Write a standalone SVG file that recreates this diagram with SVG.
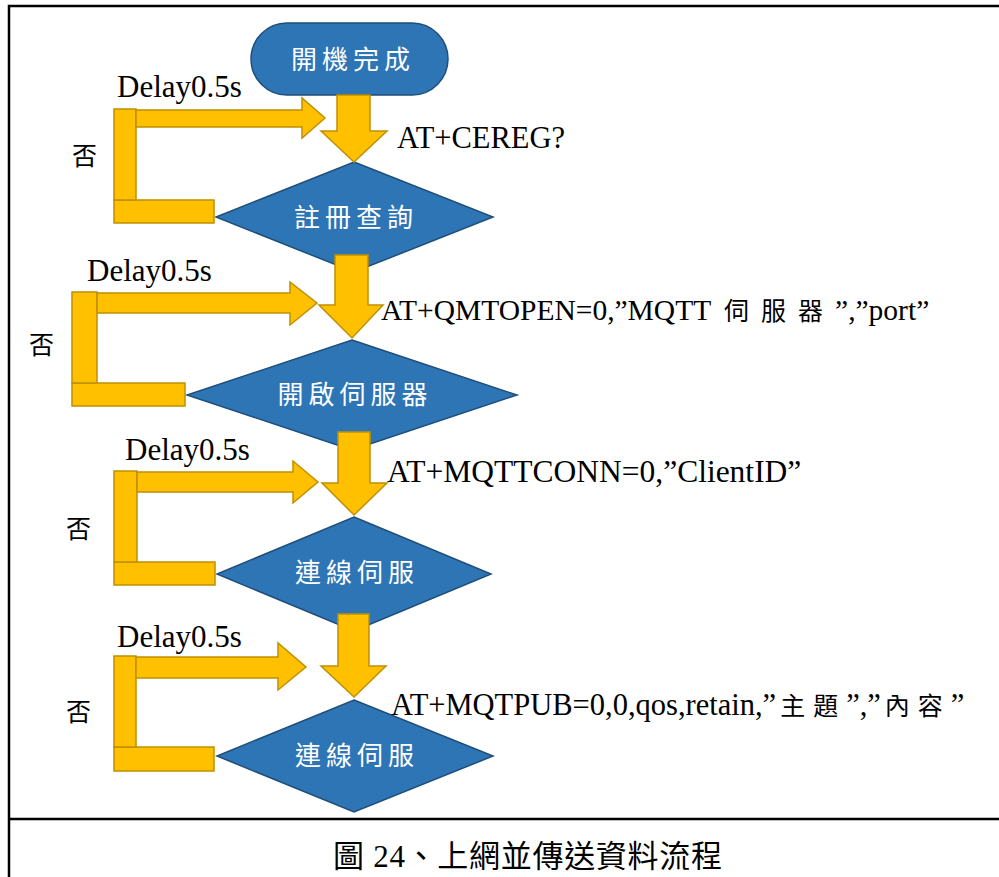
<svg xmlns="http://www.w3.org/2000/svg" width="999" height="877" viewBox="0 0 999 877">
  <style>
    .frame { fill: none; stroke: #000; stroke-width: 2.5; }
    .gold { fill: #FFC000; stroke: #BF9000; stroke-width: 1.5; stroke-linejoin: miter; }
    .blue { fill: #2E75B6; stroke: #1F4E79; stroke-width: 1.5; }
    .node-label { font-family: "Noto Sans CJK TC", sans-serif; font-size: 26px; fill: #fff; text-anchor: middle; letter-spacing: 5px; }
    .note { font-family: "Liberation Serif", "Noto Sans CJK TC", serif; fill: #000; }
    .cjk { font-family: "Noto Sans CJK TC", sans-serif; font-size: 25px; }
    .no { font-family: "Noto Sans CJK TC", sans-serif; font-size: 25px; fill: #000; }
    .caption { font-family: "Liberation Serif", "Noto Sans CJK TC", serif; font-size: 31px; fill: #000; }
  </style>

  <rect width="999" height="877" fill="#fff"/>

  <!-- outer frame and caption divider -->
  <path class="frame" d="M9 877 V6 H999"/>
  <line class="frame" x1="9" y1="819" x2="999" y2="819"/>
  <text class="caption" x="333" y="867" textLength="389">圖 24、上網並傳送資料流程</text>

  <!-- nodes -->
  <g id="start">
    <rect class="blue" x="251" y="23" width="197" height="72" rx="36" ry="36"/>
    <text class="node-label" x="353" y="69">開機完成</text>
  </g>
  <g id="check-reg">
    <polygon class="blue" points="354,162 493,217 354,272 216,217"/>
    <text class="node-label" x="356" y="227">註冊查詢</text>
  </g>
  <g id="open-server">
    <polygon class="blue" points="352,340 517,395 352,450 187,395"/>
    <text class="node-label" x="355" y="404">開啟伺服器</text>
  </g>
  <g id="connect-server">
    <polygon class="blue" points="354,517 491,574 354,631 217,574"/>
    <text class="node-label" x="357" y="582">連線伺服</text>
  </g>
  <g id="publish">
    <polygon class="blue" points="354,700 493,756 354,812 217,756"/>
    <text class="node-label" x="357" y="765">連線伺服</text>
  </g>

  <!-- connectors: block arrows and retry loops -->
  <g id="connectors">
    <!-- main flow arrows -->
    <polygon class="gold" points="337,95 370,95 370,131 387,131 354,162 321,131 337,131"/>
    <polygon class="gold" points="335,255 368,255 368,305 383,305 352,338 319,305 335,305"/>
    <polygon class="gold" points="338,432 370,432 370,483 387,483 354,515 322,483 338,483"/>
    <polygon class="gold" points="338,614 369,614 369,666 386,666 354,697 321,666 338,666"/>

    <!-- retry loop 1 -->
    <rect class="gold" x="114" y="200" width="100" height="23"/>
    <rect class="gold" x="114" y="109" width="22" height="91"/>
    <polygon class="gold" points="136,110 302,110 302,98 325,118 302,138 302,127 136,127"/>

    <!-- retry loop 2 -->
    <rect class="gold" x="72" y="383" width="113" height="23"/>
    <rect class="gold" x="72" y="292" width="25" height="91"/>
    <polygon class="gold" points="97,293 290,293 290,282 317,303 290,325 290,313 97,313"/>

    <!-- retry loop 3 -->
    <rect class="gold" x="114" y="562" width="101" height="23"/>
    <rect class="gold" x="114" y="471" width="23" height="91"/>
    <polygon class="gold" points="137,472 293,472 293,461 318,482 293,503 293,492 137,492"/>

    <!-- retry loop 4 -->
    <rect class="gold" x="114" y="747" width="100" height="24"/>
    <rect class="gold" x="114" y="656" width="22" height="91"/>
    <polygon class="gold" points="136,657 278,657 278,643 306,667 278,690 278,678 136,678"/>
  </g>

  <!-- loop labels -->
  <g id="labels">
    <text class="note" x="117" y="97" font-size="31">Delay0.5s</text>
    <text class="note" x="87" y="281" font-size="31">Delay0.5s</text>
    <text class="note" x="125" y="460" font-size="31">Delay0.5s</text>
    <text class="note" x="117" y="647" font-size="31">Delay0.5s</text>

    <text class="no" x="72" y="165">否</text>
    <text class="no" x="29" y="354">否</text>
    <text class="no" x="66" y="538">否</text>
    <text class="no" x="66" y="721">否</text>

    <text class="note" x="397" y="148" font-size="30.5">AT+CEREG?</text>
    <text class="note" x="381" y="320" font-size="29.5">AT+QMTOPEN=0,”MQTT <tspan class="cjk" dx="6" letter-spacing="12">伺服器</tspan>”,”port”</text>
    <text class="note" x="387" y="482" font-size="31.5">AT+MQTTCONN=0,”ClientID”</text>
    <text class="note" x="391" y="715" font-size="30.5">AT+MQTPUB=0,0,qos,retain,”<tspan class="cjk" dx="4" letter-spacing="8">主題</tspan>”,”<tspan class="cjk" dx="4" letter-spacing="8">內容</tspan>”</text>
  </g>
</svg>
